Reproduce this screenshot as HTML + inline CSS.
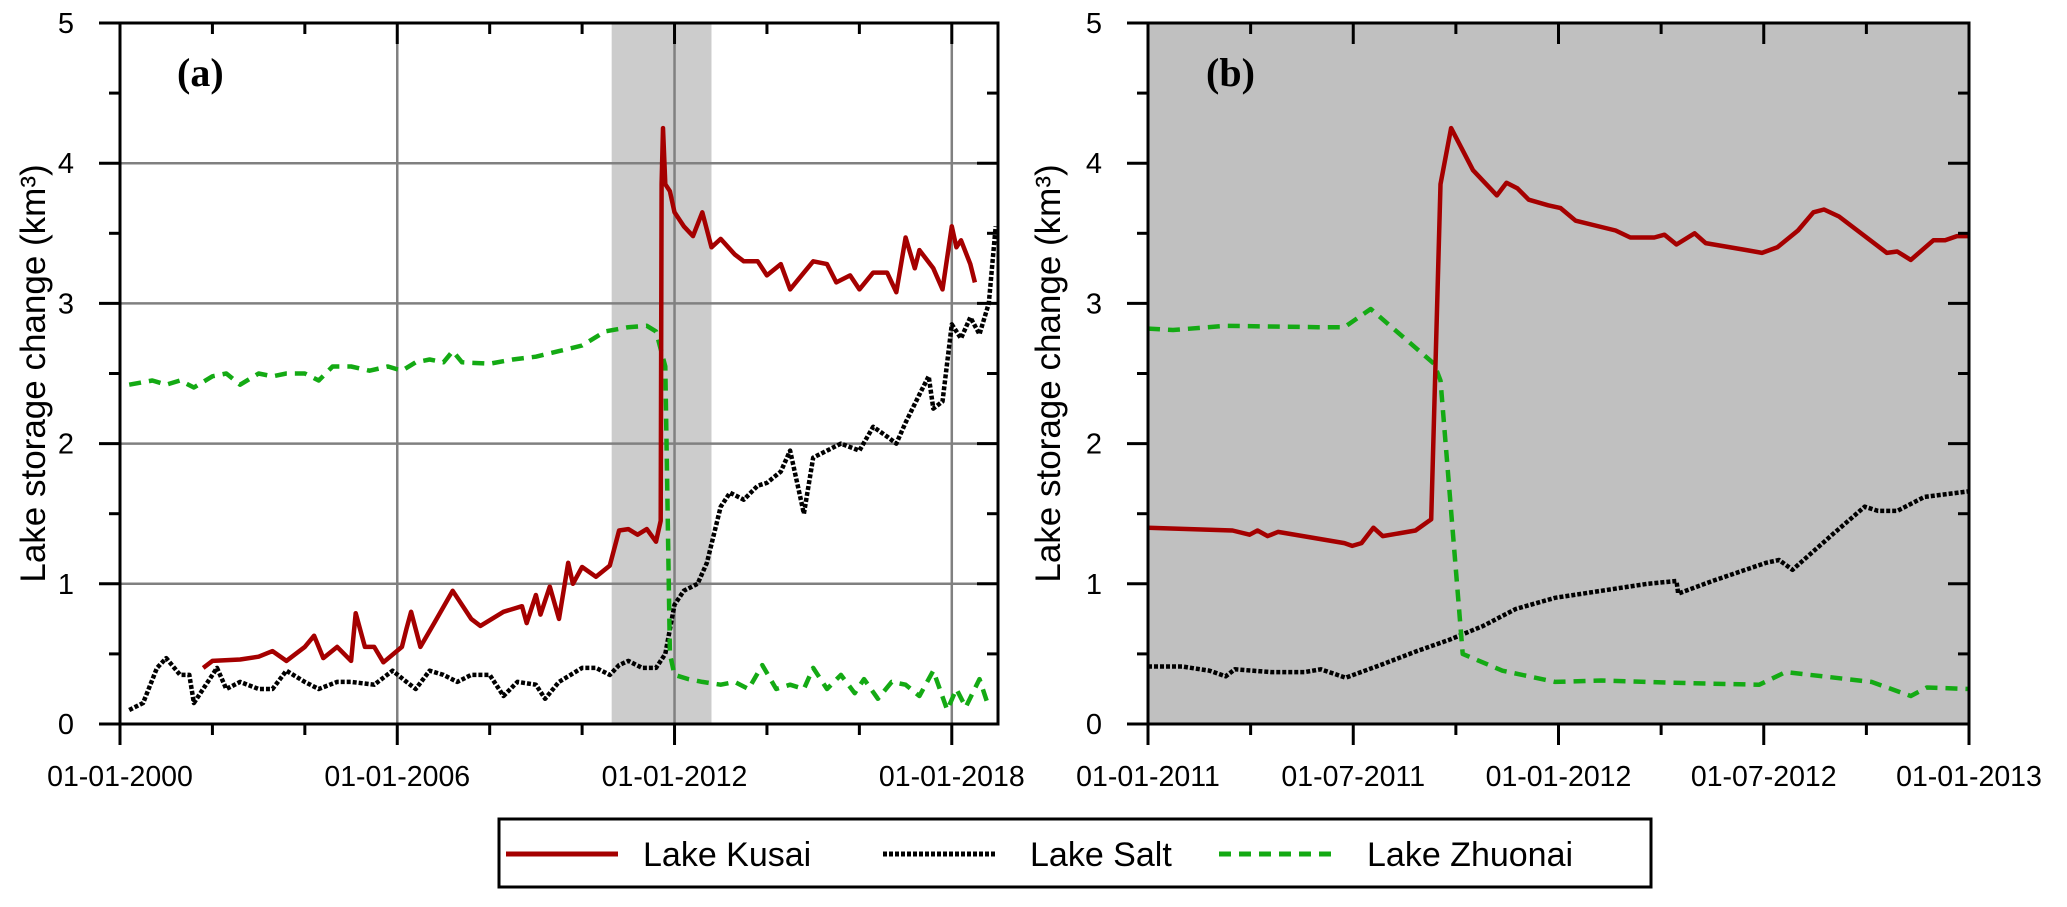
<!DOCTYPE html>
<html><head><meta charset="utf-8"><style>
html,body{margin:0;padding:0;background:#fff;}
svg{display:block;font-family:"Liberation Sans",sans-serif;}
</style></head><body>
<svg id="chart" width="2067" height="907" viewBox="0 0 2067 907" xmlns="http://www.w3.org/2000/svg">
<g id="panelA"></g>
<g id="panelB"></g>
<g id="legend">
<rect x="499" y="819" width="1152" height="68" fill="#fff" stroke="#000" stroke-width="3"/>
<line x1="506" y1="854" x2="618" y2="854" stroke="#a50000" stroke-width="5"/>
<text x="643" y="866" font-size="34">Lake Kusai</text>
<line x1="883" y1="854" x2="996" y2="854" stroke="#000" stroke-width="5" stroke-dasharray="4 2"/>
<text x="1030" y="866" font-size="34">Lake Salt</text>
<line x1="1219" y1="854" x2="1334" y2="854" stroke="#14aa14" stroke-width="5" stroke-dasharray="12 8"/>
<text x="1367" y="866" font-size="34">Lake Zhuonai</text>
</g>
</svg>
<script>
// Panel (a): years (decimal) and values (km3)
const kusaiAYears = [2001.8,2002.0,2002.6,2003.0,2003.3,2003.6,2004.0,2004.2,2004.4,2004.7,2005.0,2005.1,2005.3,2005.5,2005.7,2006.1,2006.2,2006.3,2006.5,2006.8,2007.2,2007.6,2007.8,2008.3,2008.7,2008.8,2009.0,2009.1,2009.3,2009.5,2009.7,2009.8,2010.0,2010.3,2010.6,2010.8,2011.0,2011.2,2011.4,2011.6,2011.7,2011.72,2011.75,2011.8,2011.9,2012.0,2012.2,2012.4,2012.6,2012.8,2013.0,2013.3,2013.5,2013.8,2014.0,2014.3,2014.5,2014.8,2015.0,2015.3,2015.5,2015.8,2016.0,2016.3,2016.6,2016.8,2017.0,2017.2,2017.3,2017.6,2017.8,2018.0,2018.1,2018.2,2018.4,2018.5];
const kusaiAValues = [0.40,0.45,0.46,0.48,0.52,0.45,0.55,0.63,0.47,0.55,0.45,0.79,0.55,0.55,0.44,0.55,0.68,0.80,0.55,0.72,0.95,0.75,0.70,0.80,0.84,0.72,0.92,0.78,0.98,0.75,1.15,1.00,1.12,1.05,1.13,1.38,1.39,1.35,1.39,1.30,1.45,3.85,4.25,3.85,3.80,3.65,3.55,3.48,3.65,3.40,3.46,3.35,3.30,3.30,3.20,3.28,3.10,3.22,3.30,3.28,3.15,3.20,3.10,3.22,3.22,3.08,3.47,3.25,3.38,3.25,3.10,3.55,3.40,3.45,3.28,3.15];
const saltAYears = [2000.2,2000.5,2000.8,2001.0,2001.3,2001.5,2001.6,2001.9,2002.1,2002.3,2002.6,2003.0,2003.3,2003.6,2004.0,2004.3,2004.7,2005.0,2005.5,2005.9,2006.2,2006.4,2006.7,2007.0,2007.3,2007.6,2008.0,2008.3,2008.6,2009.0,2009.2,2009.5,2010.0,2010.3,2010.6,2010.8,2011.0,2011.3,2011.6,2011.8,2012.0,2012.2,2012.5,2012.7,2013.0,2013.2,2013.5,2013.8,2014.0,2014.3,2014.5,2014.8,2015.0,2015.3,2015.6,2016.0,2016.3,2016.6,2016.8,2017.0,2017.3,2017.5,2017.6,2017.8,2018.0,2018.2,2018.4,2018.6,2018.8,2018.95];
const saltAValues = [0.10,0.15,0.40,0.47,0.35,0.35,0.15,0.30,0.40,0.25,0.30,0.25,0.25,0.38,0.30,0.25,0.30,0.30,0.28,0.38,0.30,0.25,0.38,0.35,0.30,0.35,0.35,0.20,0.30,0.28,0.18,0.30,0.40,0.40,0.35,0.42,0.45,0.40,0.40,0.50,0.85,0.95,1.00,1.15,1.55,1.65,1.60,1.70,1.72,1.80,1.95,1.50,1.90,1.95,2.00,1.95,2.12,2.05,2.00,2.15,2.35,2.48,2.25,2.30,2.85,2.75,2.90,2.78,3.00,3.55];
const zhuonaiAYears = [2000.2,2000.7,2001.0,2001.3,2001.6,2002.0,2002.3,2002.6,2003.0,2003.3,2003.6,2004.0,2004.3,2004.6,2005.0,2005.4,2005.8,2006.1,2006.4,2006.7,2007.0,2007.2,2007.4,2008.0,2008.5,2009.0,2009.5,2010.0,2010.5,2011.0,2011.4,2011.6,2011.8,2011.9,2012.0,2012.3,2012.6,2013.0,2013.3,2013.6,2013.9,2014.2,2014.5,2014.8,2015.0,2015.3,2015.6,2015.9,2016.1,2016.4,2016.7,2017.0,2017.3,2017.6,2017.9,2018.1,2018.3,2018.6,2018.8];
const zhuonaiAValues = [2.42,2.45,2.42,2.45,2.40,2.48,2.50,2.42,2.50,2.48,2.50,2.50,2.45,2.55,2.55,2.52,2.55,2.52,2.58,2.60,2.58,2.66,2.58,2.57,2.60,2.62,2.66,2.70,2.80,2.83,2.84,2.80,2.55,0.50,0.35,0.32,0.30,0.28,0.30,0.25,0.42,0.25,0.28,0.25,0.40,0.25,0.35,0.22,0.32,0.18,0.30,0.28,0.20,0.38,0.10,0.25,0.12,0.32,0.12];
const aXTickLabels = ["01-01-2000","01-01-2006","01-01-2012","01-01-2018"];
const aXTickYears = [2000,2006,2012,2018];
const yTickLabels = ["0","1","2","3","4","5"];
const bandA = [2010.64,2012.8];

// Panel (b): months since 01-01-2011
const kusaiBMonths = [0,2.47,2.97,3.2,3.5,3.8,5.74,5.97,6.24,6.59,6.86,7.82,8.28,8.55,8.86,9.5,10.2,10.48,10.8,11.13,11.7,12.06,12.5,13.67,14.1,14.8,15.1,15.45,15.98,16.3,17.5,17.95,18.4,19.0,19.45,19.76,20.2,21.6,21.9,22.3,22.96,23.3,23.65,24];
const kusaiBValues = [1.40,1.38,1.35,1.38,1.34,1.37,1.29,1.27,1.29,1.40,1.34,1.38,1.46,3.85,4.25,3.95,3.77,3.86,3.82,3.74,3.70,3.68,3.59,3.52,3.47,3.47,3.49,3.42,3.50,3.43,3.38,3.36,3.40,3.52,3.65,3.67,3.62,3.36,3.37,3.31,3.45,3.45,3.48,3.48];
const saltBMonths = [0,1.0,1.8,2.27,2.54,3.6,4.58,5.05,5.78,6.9,7.86,8.8,9.8,10.75,11.9,13.25,14.6,15.45,15.5,16.5,18.07,18.45,18.84,20,20.95,21.34,21.9,22.7,24];
const saltBValues = [0.41,0.41,0.38,0.34,0.39,0.37,0.37,0.39,0.33,0.43,0.52,0.60,0.70,0.82,0.90,0.95,1.00,1.02,0.93,1.02,1.15,1.17,1.10,1.35,1.55,1.52,1.52,1.62,1.66];
const zhuonaiBMonths = [0,0.73,2.27,4.97,5.74,6.51,8.36,8.55,9.2,10.36,11.9,13.25,15.95,17.87,18.64,21.15,22.3,22.77,24];
const zhuonaiBValues = [2.82,2.81,2.84,2.83,2.83,2.96,2.57,2.45,0.50,0.38,0.30,0.31,0.29,0.28,0.37,0.30,0.20,0.26,0.25];
const bXTickLabels = ["01-01-2011","01-07-2011","01-01-2012","01-07-2012","01-01-2013"];
const bXTickMonths = [0,6,12,18,24];

const NS="http://www.w3.org/2000/svg";
function mk(parent,tag,attrs){const e=document.createElementNS(NS,tag);for(const k in attrs)e.setAttribute(k,attrs[k]);parent.appendChild(e);return e;}
const TOP=23, BOT=724;
function yS(v){return BOT-(v/5)*(BOT-TOP);}
function axA(yr){return 120+(yr-2000)*(998-120)/19;}
function axB(m){return 1148+m*(1969-1148)/24;}

function drawPanel(g,L,R,xf,opts){
  const bg=mk(g,'rect',{x:L,y:TOP,width:R-L,height:BOT-TOP,fill:opts.bg});
  
  
  if(opts.band){
    const b=mk(g,'rect',{x:xf(opts.band[0]),y:TOP,width:xf(opts.band[1])-xf(opts.band[0]),height:BOT-TOP,fill:'#cccccc'});
    
    
  }
  if(opts.grid){
    for(let i=1;i<5;i++){const l=mk(g,'line',{x1:L,x2:R,y1:yS(i),y2:yS(i),stroke:'#808080','stroke-width':2.5});
      
      }
    opts.ticks.forEach(t=>{if(xf(t)>L+2&&xf(t)<R-2){const l=mk(g,'line',{x1:xf(t),x2:xf(t),y1:TOP,y2:BOT,stroke:'#808080','stroke-width':2.5});
      
      }});
  }
  const S=[[opts.salt[0],opts.salt[1],'#000','4 2','salt-line'],[opts.zh[0],opts.zh[1],'#14aa14','12 8','zhuonai-line'],[opts.ku[0],opts.ku[1],'#a50000','','kusai-line']];
  S.forEach(s=>{
    const pts=s[0].map((x,i)=>xf(x).toFixed(1)+','+yS(s[1][i]).toFixed(1)).join(' ');
    const p=mk(g,'polyline',{points:pts,fill:'none',stroke:s[2],'stroke-width':4.5,'stroke-linejoin':'round'});
    if(s[3])p.setAttribute('stroke-dasharray',s[3]);
    
    
  });
  const f=mk(g,'rect',{x:L,y:TOP,width:R-L,height:BOT-TOP,fill:'none',stroke:'#000','stroke-width':3});
  
  
  for(let i=0;i<=10;i++){const v=i/2,maj=i%2==0;
    const t=mk(g,'line',{x1:L-(maj?21:11),x2:L,y1:yS(v),y2:yS(v),stroke:'#000','stroke-width':3});
    
    
    const t2=mk(g,'line',{x1:R,x2:R-(maj?21:11),y1:yS(v),y2:yS(v),stroke:'#000','stroke-width':3});
    
    
    if(maj){const tx=mk(g,'text',{x:L-46,y:yS(v)+10,'font-size':29,'text-anchor':'end'});tx.textContent=yTickLabels[i/2];
      
      }
  }
  opts.minor.forEach(t=>{const maj=opts.ticks.includes(t);
    const a=mk(g,'line',{x1:xf(t),x2:xf(t),y1:BOT,y2:BOT+(maj?21:11),stroke:'#000','stroke-width':3});
    
    
    const b=mk(g,'line',{x1:xf(t),x2:xf(t),y1:TOP,y2:TOP+(maj?21:11),stroke:'#000','stroke-width':3});
    
    });
  opts.ticks.forEach((t,i)=>{const tx=mk(g,'text',{x:xf(t),y:786,'font-size':28.5,'text-anchor':'middle'});tx.textContent=opts.labels[i];
    
    });
  const yt=mk(g,'text',{x:0,y:0,'font-size':35,'text-anchor':'middle',transform:`translate(${opts.ytx},${(TOP+BOT)/2}) rotate(-90)`});
  yt.textContent='Lake storage change (km³)';
  
  
  const pl=mk(g,'text',{x:opts.plx,y:86,'font-size':40,'font-weight':'bold','font-family':'Liberation Serif, serif'});
  pl.textContent=opts.pl;
  
  
}
const minorA=[];for(let y=2000;y<=2018;y+=2)minorA.push(y);
const minorB=[];for(let m=0;m<=24;m+=3)minorB.push(m);
drawPanel(document.getElementById('panelA'),120,998,axA,{bg:'#fff',band:bandA,grid:true,ticks:aXTickYears,minor:minorA,labels:aXTickLabels,
  ku:[kusaiAYears,kusaiAValues],salt:[saltAYears,saltAValues],zh:[zhuonaiAYears,zhuonaiAValues],ytx:45,plx:177,pl:'(a)'});
drawPanel(document.getElementById('panelB'),1148,1969,axB,{bg:'#c0c0c0',band:null,grid:false,ticks:bXTickMonths,minor:minorB,labels:bXTickLabels,
  ku:[kusaiBMonths,kusaiBValues],salt:[saltBMonths,saltBValues],zh:[zhuonaiBMonths,zhuonaiBValues],ytx:1060,plx:1206,pl:'(b)'});
</script>
</body></html>
